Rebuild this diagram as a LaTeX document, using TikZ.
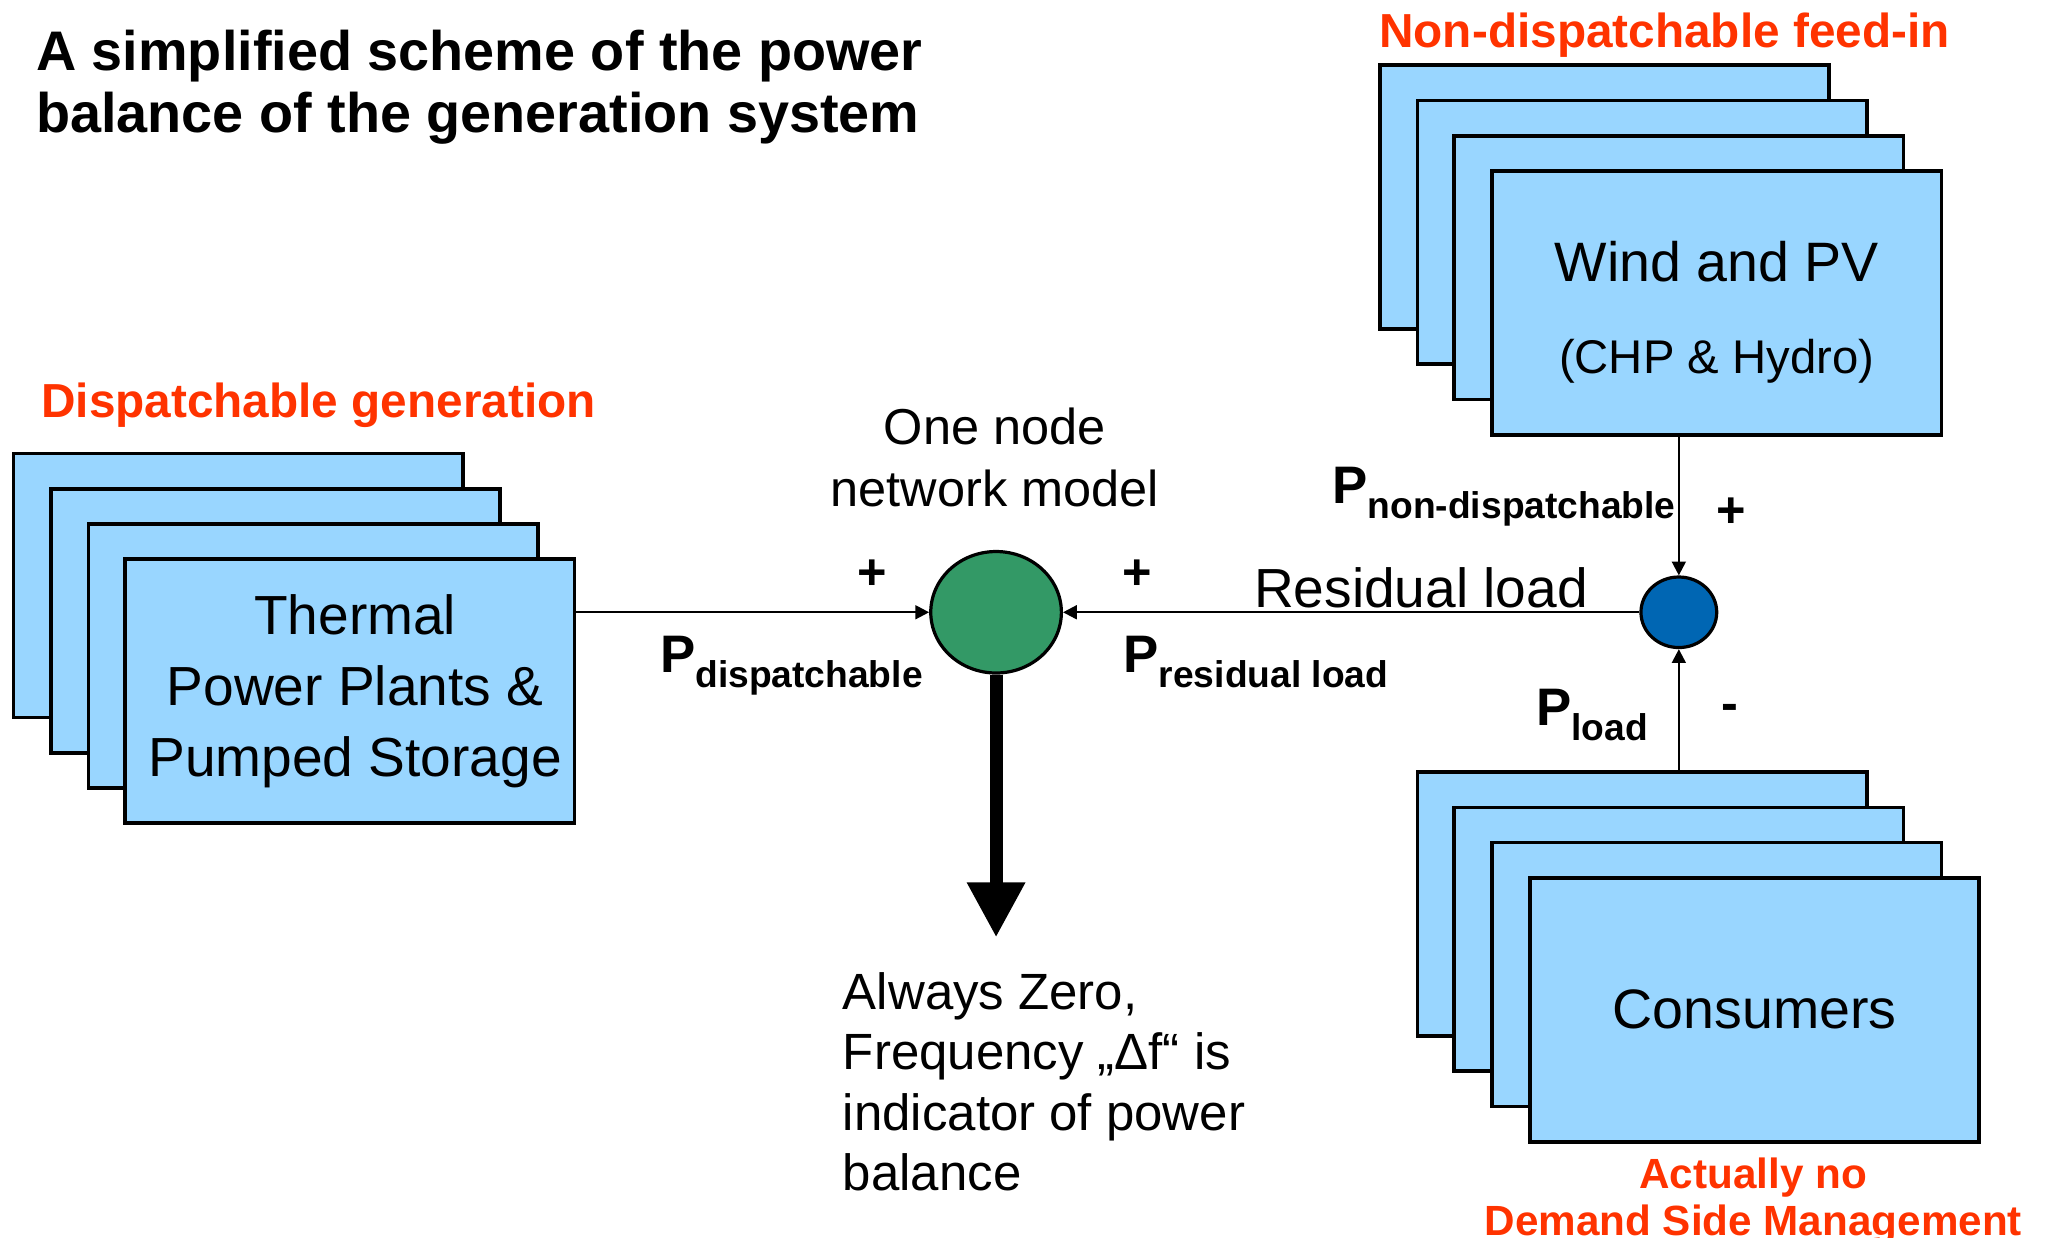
\documentclass[tikz,border=0pt]{standalone}
\usepackage{fontspec}
\setmainfont{Liberation Sans}
\usepackage{xcolor}
\usetikzlibrary{arrows.meta,shapes.geometric}
\definecolor{cardblue}{RGB}{153,214,255}
\definecolor{alertorange}{RGB}{255,51,0}
\definecolor{nodegreen}{RGB}{51,153,102}
\definecolor{nodeblue}{RGB}{0,102,179}
\newcommand{\pwr}[1]{{\fontsize{11.5}{13}\selectfont\bfseries P}\raisebox{-3.2pt}{\fontsize{8.1}{10}\selectfont\bfseries #1}}

\begin{document}
\begin{tikzpicture}[
  x=0.01cm, y=-0.01cm,
  card/.style={draw, line width=0.8pt, fill=cardblue, minimum width=3.44cm,
               minimum height=2.02cm, inner sep=0pt, align=center},
  headline/.style={text=alertorange, inner sep=0pt, align=center,
                   font=\fontsize{10.4}{12}\selectfont\bfseries},
  sign/.style={inner sep=0pt, font=\fontsize{11}{13}\selectfont\bfseries},
  plain/.style={inner sep=0pt},
  wire/.style={-{Triangle[length=3pt,width=3pt]}, line width=0.5pt},
  heavy/.style={-{Triangle[length=12pt,width=12pt]}, line width=2.8pt},
]
  \useasboundingbox (0,0) rectangle (1568,948);

  % ---- Title ----
  \node[plain, anchor=north west, align=left,
        font=\fontsize{12.15}{13.66}\selectfont\bfseries] (title) at (27,22)
        {A simplified scheme of the power\\balance of the generation system};

  % ---- Dispatchable side ----
  \node[headline, anchor=base] (disphdr) at (244,320) {Dispatchable generation};
  \node[card] (therm1) at (182.5,448.5) {};
  \node[card] (therm2) at (211,475.5) {};
  \node[card] (therm3) at (240,502.5) {};
  \node[card, font=\fontsize{12}{15.5}\selectfont] (therm4) at (268,529.5)
        {\hspace*{2.3pt}Thermal\\\hspace*{2.3pt}Power Plants \&\\\hspace*{2.3pt}Pumped Storage};

  % ---- Non-dispatchable side ----
  \node[headline, anchor=base] (nonhdr) at (1275,36) {Non-dispatchable feed-in};
  \node[card] (wind1) at (1229,151) {};
  \node[card] (wind2) at (1258,178) {};
  \node[card] (wind3) at (1286,205) {};
  \node[card, font=\fontsize{12.1}{19.9}\selectfont] (wind4) at (1315,232)
        {\rule{0pt}{12.8pt}Wind and PV\\{\fontsize{10.3}{19.9}\selectfont (CHP \& Hydro)}};

  % ---- Consumers ----
  \node[card] (cons1) at (1258,692.5) {};
  \node[card] (cons2) at (1286,719.5) {};
  \node[card] (cons3) at (1315,746.5) {};
  \node[card, font=\fontsize{12.1}{14}\selectfont] (cons4) at (1344,773.5) {Consumers};
  \node[headline, anchor=north, font=\fontsize{9.2}{10.2}\selectfont\bfseries] (dsm)
        at (1343,886) {Actually no\\Demand Side Management};

  % ---- Network nodes ----
  \node[draw, ellipse, line width=0.7pt, fill=nodegreen, inner sep=0pt,
        minimum width=1cm, minimum height=0.93cm] (green) at (763,469) {};
  \node[draw, ellipse, line width=0.7pt, fill=nodeblue, inner sep=0pt,
        minimum width=0.58cm, minimum height=0.54cm] (blue) at (1286,469) {};
  \coordinate (zero) at (763,718);

  \node[plain, anchor=north, align=center, font=\fontsize{11}{13.4}\selectfont] (model)
        at (762,312) {One node\\network model};
  \node[plain, anchor=north west, align=left, font=\fontsize{11.1}{13.2}\selectfont] (balance)
        at (645,744) {Always Zero,\\Frequency „Δf“ is\\indicator of power\\balance};

  % ---- Arrows ----
  \draw[wire] (therm4.east |- green.west) -- (green.west);
  \draw[wire] (blue.west) -- (green.east);
  \draw[wire] (wind4.south -| blue.north) -- (blue.north);
  \draw[wire] (cons1.north -| blue.south) -- (blue.south);
  \draw[heavy] (green.south) -- (zero);

  % ---- Labels ----
  \node[plain, anchor=base west] (pdisp) at (505,515) {\pwr{dispatchable}};
  \node[plain, anchor=base west] (presid) at (860,515) {\pwr{residual load}};
  \node[plain, anchor=base west] (pnon) at (1020,386) {\pwr{non-dispatchable}};
  \node[plain, anchor=base west] (pload) at (1176,556) {\pwr{load}};
  \node[plain, anchor=base west, font=\fontsize{12}{14}\selectfont] (resid)
        at (960,465) {Residual load};

  \node[sign] (plusa) at (668,440) {+};
  \node[sign] (plusb) at (871,440) {+};
  \node[sign] (plusc) at (1326,393) {+};
  \node[sign] (minus) at (1325,546) {-};
\end{tikzpicture}
\end{document}
